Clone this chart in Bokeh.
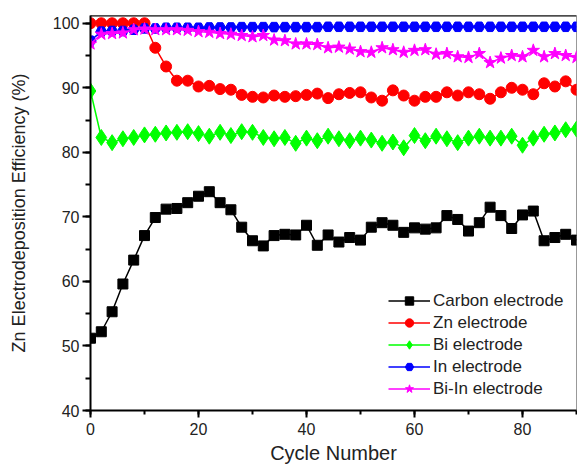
from bokeh.plotting import figure
from bokeh.models import Range1d, SingleIntervalTicker, Span, Legend, LegendItem
from bokeh.embed import file_html
from bokeh.resources import INLINE

cycles = list(range(0, 91, 2))

carbon = [51.2, 52.2, 55.3, 59.6, 63.3, 67.1, 69.9, 71.2, 71.3, 72.2, 73.2, 73.9,
          72.2, 71.1, 68.4, 66.3, 65.5, 67.1, 67.3, 67.2, 68.7, 65.6, 67.2, 66.1,
          66.8, 66.4, 68.4, 69.1, 68.7, 67.6, 68.3, 68.1, 68.3, 70.2, 69.6, 67.8,
          69.1, 71.5, 70.2, 68.2, 70.3, 70.9, 66.3, 66.8, 67.3, 66.4]
zn = [100, 100, 100, 100, 100, 100, 96.2, 93.3, 91.1, 91.1, 90.2, 90.3,
      89.8, 89.7, 88.9, 88.6, 88.5, 88.8, 88.6, 88.7, 88.9, 89.1, 88.4, 89.0,
      89.2, 89.3, 88.5, 88.0, 89.6, 88.8, 88.0, 88.6, 88.6, 89.3, 88.8, 89.3,
      89.0, 88.3, 89.3, 90.0, 89.7, 89.0, 90.7, 90.2, 91.0, 89.7]
bi = [89.5, 82.3, 81.5, 82.1, 82.3, 82.7, 82.8, 83.0, 83.1, 83.2, 82.9, 82.5,
      83.1, 82.6, 83.2, 83.1, 82.3, 82.1, 82.3, 81.4, 82.2, 81.8, 82.5, 82.1,
      81.8, 82.2, 81.9, 81.4, 81.6, 80.7, 82.6, 81.8, 82.5, 82.1, 81.5, 82.2,
      82.5, 82.2, 82.2, 82.5, 81.1, 82.2, 82.8, 83.0, 83.5, 83.6]
ind = [97.3, 98.7, 98.8, 98.8, 99.0, 99.2, 99.2, 99.3, 99.3, 99.3, 99.3, 99.35,
       99.35, 99.35, 99.4, 99.4, 99.4, 99.4, 99.4, 99.4, 99.4, 99.4, 99.45, 99.45,
       99.45, 99.45, 99.45, 99.45, 99.45, 99.45, 99.45, 99.45, 99.45, 99.45, 99.45, 99.45,
       99.45, 99.45, 99.45, 99.45, 99.45, 99.45, 99.45, 99.45, 99.45, 99.45]
biin = [96.8, 98.3, 98.4, 98.5, 99.0, 99.1, 99.0, 99.0, 99.0, 98.9, 98.7, 98.6,
        98.4, 98.3, 98.1, 97.9, 98.1, 97.4, 97.3, 96.8, 96.8, 96.7, 96.2, 96.3,
        96.0, 95.6, 95.5, 96.2, 95.9, 95.5, 95.8, 95.9, 95.2, 95.3, 94.8, 94.7,
        95.3, 93.9, 94.6, 95.0, 94.8, 95.8, 94.8, 95.3, 95.0, 94.7]

series = [
    ("Carbon electrode", carbon, "#000000", "square", 10),
    ("Zn electrode", zn, "#FF0000", "circle", 11),
    ("Bi electrode", bi, "#00FF00", "diamond", 16),
    ("In electrode", ind, "#0000FF", "hex", 11),
    ("Bi-In electrode", biin, "#FF00FF", "star", 13),
]

FONT = "Liberation Sans"

p = figure(width=577, height=469, output_backend="svg", toolbar_location=None,
           x_range=Range1d(0, 90), y_range=Range1d(40, 101.2),
           min_border_left=90, min_border_right=1, min_border_top=15, min_border_bottom=59)
p.grid.visible = False
p.background_fill_color = "white"
p.border_fill_color = "white"
p.outline_line_color = "#999999"
p.outline_line_width = 1

p.xaxis.ticker = SingleIntervalTicker(interval=20, num_minor_ticks=2)
p.yaxis.ticker = SingleIntervalTicker(interval=10, num_minor_ticks=2)
for ax in (p.xaxis[0], p.yaxis[0]):
    ax.axis_line_width = 2
    ax.major_tick_line_width = 2
    ax.minor_tick_line_width = 2
    ax.major_tick_in = 0
    ax.minor_tick_in = 0
    ax.major_label_text_font = FONT
    ax.major_label_text_font_size = "16px"
    ax.major_label_text_color = "#222222"
    ax.axis_label_text_font = FONT
    ax.axis_label_text_font_style = "normal"
    ax.axis_label_text_color = "#222222"
p.xaxis.axis_label_text_font_size = "20px"
p.yaxis.axis_label_text_font_size = "18px"
p.xaxis.major_tick_out = 7
p.xaxis.minor_tick_out = 4
p.yaxis.major_tick_out = 8
p.yaxis.minor_tick_out = 5
p.xaxis.major_label_standoff = 5
p.yaxis.major_label_standoff = 3
p.xaxis.axis_label = "Cycle Number"
p.yaxis.axis_label = "Zn Electrodeposition Efficiency (%)"
p.xaxis.axis_label_standoff = 4
p.yaxis.axis_label_standoff = 21

p.add_layout(Span(location=101.2, dimension="width", line_color="black", line_width=2))

items = []
for name, vals, color, marker, size in series:
    r1 = p.line(cycles, vals, line_color=color, line_width=1.5)
    r2 = p.scatter(cycles, vals, marker=marker, size=size, fill_color=color, line_color=color)
    items.append(LegendItem(label=name, renderers=[r1, r2]))

legend = Legend(items=items, location=(298, 11), border_line_color=None,
                background_fill_alpha=0, padding=0, margin=0, spacing=1,
                glyph_width=42, glyph_height=21, label_height=21,
                label_text_font=FONT, label_text_font_size="17px",
                label_text_color="#222222", label_standoff=3)
p.add_layout(legend, "center")

open("out.html", "w").write(file_html(p, INLINE))
